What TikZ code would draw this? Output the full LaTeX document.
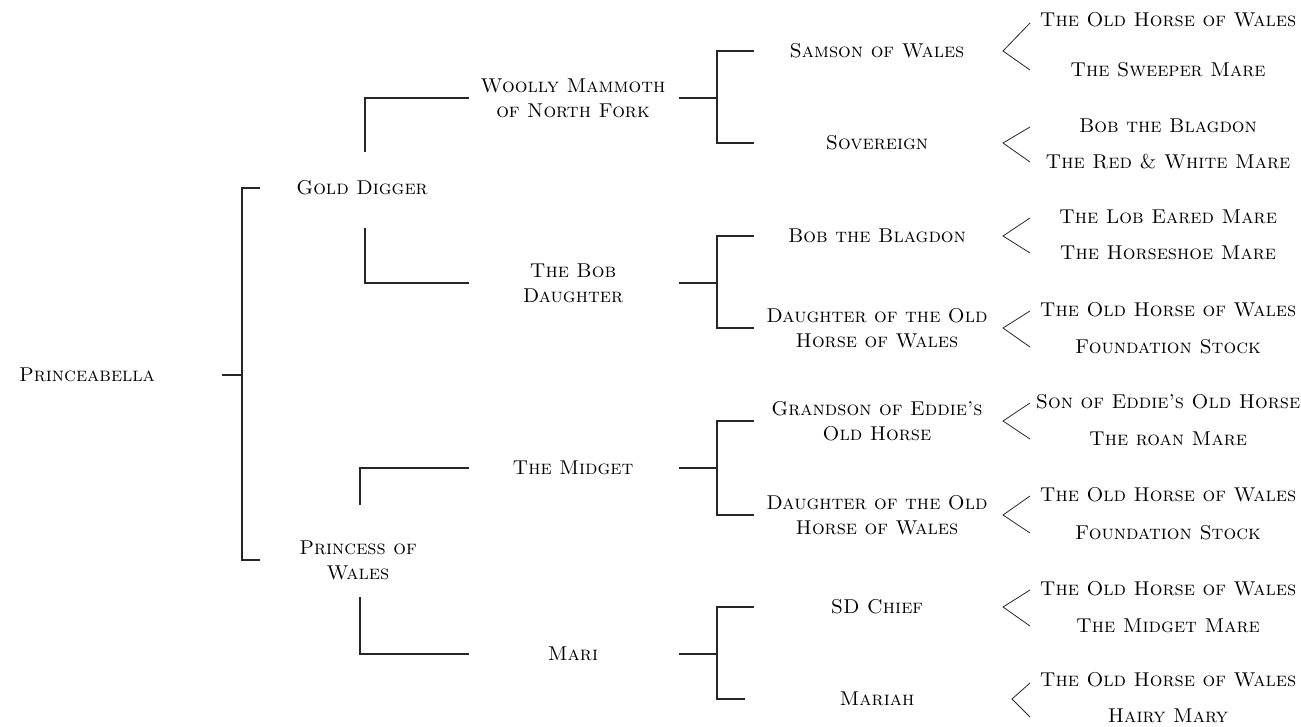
\documentclass[tikz,border=0pt]{standalone}
\usetikzlibrary{calc}
\begin{document}
\begin{tikzpicture}[x=1pt,y=-1pt,
  lbl/.style={inner sep=0pt,anchor=center,align=center,font=\fontsize{20}{25}\selectfont\scshape},
  ln/.style={line width=1.1pt,draw=black!85}]
\useasboundingbox (0,0) rectangle (1301,726);
% generation 0
\node[lbl] (pa) at (87,375) {Princeabella};
% generation 1
\node[lbl] (gd) at (362,188) {Gold Digger};
\node[lbl] (pw) at (358,560) {Princess of\\Wales};
% generation 2
\node[lbl] (wm) at (573,98) {Woolly Mammoth\\of North Fork};
\node[lbl] (bd) at (573,283) {The Bob\\Daughter};
\node[lbl] (mg) at (573,468) {The Midget};
\node[lbl] (mr) at (573,654) {Mari};
% generation 3
\node[lbl] (sam) at (877,51) {Samson of Wales};
\node[lbl] (sov) at (877,143) {Sovereign};
\node[lbl] (bob) at (877,236) {Bob the Blagdon};
\node[lbl] (dau1) at (877,328) {Daughter of the Old\\Horse of Wales};
\node[lbl] (gra) at (877,421) {Grandson of Eddie's\\Old Horse};
\node[lbl] (dau2) at (877,515) {Daughter of the Old\\Horse of Wales};
\node[lbl] (sdc) at (877,607) {SD Chief};
\node[lbl] (mah) at (877,699) {Mariah};
% generation 4
\node[lbl] (a1) at (1168,20) {The Old Horse of Wales};
\node[lbl] (b1) at (1168,70) {The Sweeper Mare};
\node[lbl] (a2) at (1168,126) {Bob the Blagdon};
\node[lbl] (b2) at (1168,162) {The Red \& White Mare};
\node[lbl] (a3) at (1168,217) {The Lob Eared Mare};
\node[lbl] (b3) at (1168,253) {The Horseshoe Mare};
\node[lbl] (a4) at (1168,310) {The Old Horse of Wales};
\node[lbl] (b4) at (1168,347) {Foundation Stock};
\node[lbl] (a5) at (1168,402) {Son of Eddie's Old Horse};
\node[lbl] (b5) at (1168,439) {The roan Mare};
\node[lbl] (a6) at (1168,495) {The Old Horse of Wales};
\node[lbl] (b6) at (1168,533) {Foundation Stock};
\node[lbl] (a7) at (1168,589) {The Old Horse of Wales};
\node[lbl] (b7) at (1168,626) {The Midget Mare};
\node[lbl] (a8) at (1168,680) {The Old Horse of Wales};
\node[lbl] (b8) at (1168,716) {Hairy Mary};
% root bracket
\draw[ln] ($(pa)+(135,0)$) -- ($(pa)+(155,0)$);
\draw[ln] ($(gd)+(-102,0)$) -- ($(gd)+(-120,0)$) |- ($(pw)+(-98,0)$);
% generation 1 brackets
\draw[ln] ($(gd)+(3,-36)$) |- ($(wm)+(-104,0)$);
\draw[ln] ($(gd)+(3,40)$) |- ($(bd)+(-104,0)$);
\draw[ln] ($(pw)+(2,-55)$) |- ($(mg)+(-104,0)$);
\draw[ln] ($(pw)+(2,37)$) |- ($(mr)+(-104,0)$);
% generation 2 brackets
\foreach \p/\c/\d in {wm/sam/sov, bd/bob/dau1, mg/gra/dau2}{
  \draw[ln] ($(\p)+(106,0)$) -- ($(\p)+(144,0)$);
  \draw[ln] ($(\c)+(-123,0)$) -- ($(\c)+(-160,0)$) -- ($(\d)+(-160,0)$) -- ($(\d)+(-123,0)$);
}
\draw[ln] ($(mr)+(106,0)$) -- ($(mr)+(144,0)$);
\draw[ln] ($(sdc)+(-123,0)$) -- ($(sdc)+(-160,0)$) -- ($(mah)+(-160,0)$) -- ($(mah)+(-132,0)$);
% chevrons
\draw[ln,line width=0.8pt] ($(a1)+(-138,3)$) -- ($(sam)+(126,0)$) -- ($(b1)+(-138,0)$);
\foreach \p/\u/\v in {sov/a2/b2, bob/a3/b3, dau1/a4/b4, gra/a5/b5, dau2/a6/b6, sdc/a7/b7}{
  \draw[ln,line width=0.8pt] ($(\u)+(-138,1)$) -- ($(\p)+(126,0)$) -- ($(\v)+(-138,0)$);
}
\draw[ln,line width=0.8pt] ($(a8)+(-138,3)$) -- ($(mah)+(135,0)$) -- ($(b8)+(-138,1)$);
\end{tikzpicture}
\end{document}
